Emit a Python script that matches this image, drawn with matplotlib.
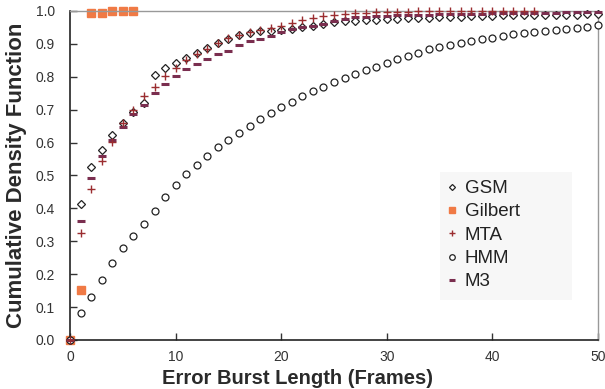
import numpy as np
import matplotlib
matplotlib.use('Agg')
import matplotlib.pyplot as plt
from matplotlib.patches import Rectangle

plt.rcParams['font.family'] = ['Liberation Sans', 'DejaVu Sans']

x_gsm = list(range(0, 51))
gsm = [0.0, 0.414, 0.527, 0.578, 0.623, 0.660, 0.694, 0.720, 0.805, 0.825,
       0.843, 0.856, 0.871, 0.886, 0.901, 0.915, 0.926, 0.933, 0.938, 0.940,
       0.942, 0.946, 0.950, 0.955, 0.960, 0.965, 0.968, 0.968, 0.971, 0.973,
       0.975, 0.976, 0.977, 0.978, 0.979, 0.980, 0.981, 0.982, 0.983, 0.984,
       0.985, 0.986, 0.986, 0.987, 0.987, 0.988, 0.988, 0.989, 0.989, 0.990,
       0.990]

x_gilbert = [0, 1, 2, 3, 4, 5, 6]
gilbert = [0.0, 0.153, 0.995, 0.995, 1.0, 1.0, 1.0]

x_mta = list(range(0, 45))
mta = [0.0, 0.326, 0.459, 0.545, 0.603, 0.659, 0.699, 0.740, 0.770, 0.802,
       0.827, 0.851, 0.869, 0.884, 0.901, 0.917, 0.927, 0.935, 0.942, 0.947,
       0.954, 0.962, 0.973, 0.978, 0.983, 0.988, 0.992, 0.993, 0.995, 0.997,
       0.998, 0.998, 0.998, 0.999, 0.999, 0.999, 0.999, 0.999, 1.0, 1.0,
       1.0, 1.0, 1.0, 1.0, 1.0]

x_hmm = list(range(0, 51))
hmm = [0.0, 0.082, 0.132, 0.181, 0.234, 0.281, 0.317, 0.353, 0.392, 0.434,
       0.472, 0.504, 0.531, 0.559, 0.587, 0.608, 0.628, 0.651, 0.673, 0.689,
       0.707, 0.724, 0.740, 0.757, 0.770, 0.783, 0.797, 0.808, 0.819, 0.831,
       0.843, 0.853, 0.863, 0.873, 0.883, 0.889, 0.897, 0.902, 0.910, 0.915,
       0.919, 0.925, 0.929, 0.934, 0.935, 0.939, 0.942, 0.944, 0.947, 0.950,
       0.957]

x_m3 = list(range(0, 51))
m3 = [0.0, 0.363, 0.491, 0.560, 0.607, 0.648, 0.686, 0.715, 0.749, 0.779,
      0.802, 0.823, 0.839, 0.854, 0.868, 0.879, 0.896, 0.908, 0.916, 0.925,
      0.935, 0.945, 0.952, 0.955, 0.960, 0.968, 0.976, 0.981, 0.981, 0.983,
      0.985, 0.986, 0.987, 0.988, 0.989, 0.990, 0.990, 0.991, 0.992, 0.992,
      0.993, 0.993, 0.994, 0.994, 0.995, 0.995, 0.995, 0.996, 0.996, 0.997,
      0.997]

fig = plt.figure(figsize=(6.05, 3.89), dpi=100)
ax = fig.add_axes([0.116, 0.126, 0.872, 0.846])

ax.plot(x_gsm, gsm, linestyle='none', marker='D', markersize=3.8,
        markerfacecolor='white', markeredgecolor='#222222', markeredgewidth=0.9,
        label='GSM', clip_on=False, zorder=3)
ax.plot(x_gilbert, gilbert, linestyle='none', marker='s', markersize=5.2,
        color='#f07a45', label='Gilbert', clip_on=False, zorder=2)
ax.plot(x_mta, mta, linestyle='none', marker='+', markersize=6,
        markeredgewidth=1.0, color='#9b2d30', label='MTA', clip_on=False, zorder=4)
ax.plot(x_hmm, hmm, linestyle='none', marker='o', markersize=5,
        markerfacecolor='white', markeredgecolor='#222222', markeredgewidth=0.9,
        label='HMM', clip_on=False, zorder=3)
ax.plot(x_m3, m3, linestyle='none', marker='_', markersize=6,
        markeredgewidth=2.2, color='#7a2e4f', label='M3', clip_on=False, zorder=3)

ax.set_xlim(0, 50)
ax.set_ylim(0, 1.0)
ax.set_xticks(np.arange(0, 51, 10))
ax.set_yticks(np.arange(0, 1.01, 0.1))
ax.set_yticklabels(['%.1f' % v for v in np.arange(0, 1.01, 0.1)])
ax.tick_params(direction='in', length=5, width=1, labelsize=10,
               labelcolor='#333333', color='#333333')
ax.tick_params(axis='y', pad=11)
ax.tick_params(axis='x', pad=7)

for s in ['left', 'bottom']:
    ax.spines[s].set_color('#222222')
    ax.spines[s].set_linewidth(1.2)
for s in ['top', 'right']:
    ax.spines[s].set_color('#999999')
    ax.spines[s].set_linewidth(1.0)

ax.set_xlabel('Error Burst Length (Frames)', fontsize=14.5, fontweight='bold',
              color='#2a2a2a', labelpad=0)
ax.xaxis.set_label_coords(0.431, -0.087)
ax.set_ylabel('Cumulative Density Function', fontsize=16, fontweight='bold',
              color='#2a2a2a', labelpad=6,
              family=['Liberation Sans Narrow', 'Liberation Sans', 'DejaVu Sans'])

# legend background box
ax.add_patch(Rectangle((0.701, 0.122), 0.25, 0.389, transform=ax.transAxes,
                       facecolor='#f7f7f7', edgecolor='none', zorder=5))
leg = ax.legend(loc='upper left', bbox_to_anchor=(0.679, 0.543), fontsize=13.5,
                frameon=False, handlelength=0.5, handletextpad=0.45,
                borderpad=0.5, labelspacing=0.33, markerscale=0.8)
leg.set_zorder(6)
for t in leg.get_texts():
    t.set_color('#222222')

fig.savefig('out.png', dpi=100)
